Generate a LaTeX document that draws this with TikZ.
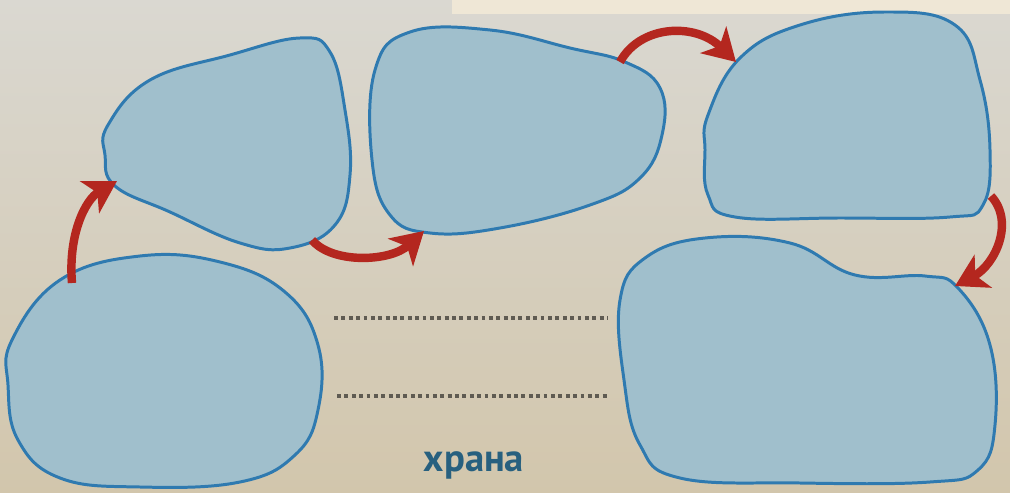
\documentclass[tikz,border=0pt]{standalone}
\usepackage{fontspec}
\setmainfont{PT Sans}
\usetikzlibrary{arrows.meta}
\definecolor{bgtop}{HTML}{DAD8D1}
\definecolor{bgbot}{HTML}{D2C6AC}
\definecolor{paper}{HTML}{EFE7D6}
\definecolor{blobfill}{HTML}{A0BFCC}
\definecolor{blobline}{HTML}{2F7AB0}
\definecolor{arrowred}{HTML}{B4271F}
\definecolor{dotgrey}{HTML}{5F5B52}
\definecolor{txtblue}{HTML}{27607F}
\tikzset{
  blob/.style={draw=blobline,fill=blobfill,line width=1.7pt},
  redarrow/.style={draw=arrowred,line width=4.8pt,-{Stealth[length=18pt,width=21pt,inset=5pt]}},
  dotline/.style={dotgrey,line width=2.2pt,dash pattern=on 2.2pt off 2pt},
}
\begin{document}
\begin{tikzpicture}[x=0.02cm,y=-0.02cm]
\useasboundingbox (0,0) rectangle (1010,493);
\shade[top color=bgtop,bottom color=bgbot] (0,0) rectangle (1010,493);
\fill[paper] (452,0) rectangle (1010,14);
% the five fields
\draw[blob] plot[smooth cycle,tension=0.7] coordinates {(108,125) (150,80) (230,55) (300,38) (330,52) (345,110) (350,175) (335,225) (290,248) (240,243) (170,212) (115,186) (105,155)};
\draw[blob] plot[smooth cycle,tension=0.7] coordinates {(375,70) (410,32) (490,30) (570,48) (625,62) (660,88) (662,135) (640,178) (590,205) (500,228) (430,233) (390,215) (372,160)};
\draw[blob] plot[smooth cycle,tension=0.7] coordinates {(708,115) (740,58) (800,25) (885,12) (955,25) (980,80) (990,150) (983,205) (950,217) (840,218) (735,217) (708,195) (705,150)};
\draw[blob] plot[smooth cycle,tension=0.7] coordinates {(12,340) (60,280) (140,256) (220,262) (285,292) (318,345) (318,410) (295,455) (240,482) (140,487) (60,478) (18,440) (8,385)};
\draw[blob] plot[smooth cycle,tension=0.7] coordinates {(620,300) (645,258) (705,238) (790,243) (855,275) (925,276) (958,288) (990,345) (995,425) (978,470) (930,482) (800,483) (680,478) (640,445) (624,380)};
% arrow ends
\coordinate (a1s) at (72,283);
\coordinate (a1e) at (117,181);
\coordinate (a2s) at (312,240);
\coordinate (a2e) at (424,231);
\coordinate (a3s) at (620,62);
\coordinate (a3e) at (736,62);
\coordinate (a4s) at (991,196);
\coordinate (a4e) at (955,286);
\draw[redarrow] (a1s) .. controls (68,235) and (85,200) .. (a1e);
\draw[redarrow] (a2s) .. controls (332,264) and (390,262) .. (a2e);
\draw[redarrow] (a3s) .. controls (640,25) and (695,22) .. (a3e);
\draw[redarrow] (a4s) .. controls (1015,222) and (995,265) .. (a4e);
% writing lines
\draw[dotline] (334,318) -- (608,318);
\draw[dotline] (337,396) -- (610,396);
\node[text=txtblue,font=\bfseries\fontsize{22}{22}\selectfont] (lbl) at (474,465) {храна};
\end{tikzpicture}
\end{document}
